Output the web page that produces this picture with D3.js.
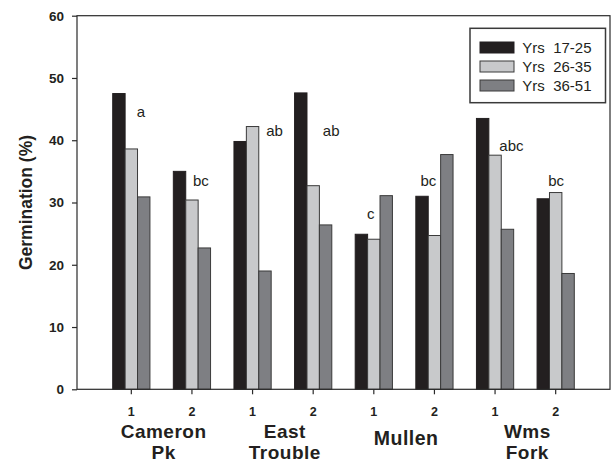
<!DOCTYPE html>
<html>
<head>
<meta charset="utf-8">
<script src="https://cdn.jsdelivr.net/npm/d3@7"></script>
<style>
  html, body { margin: 0; padding: 0; background: #fff; }
  svg { display: block; }
  text { font-family: "Liberation Sans", Arial, Helvetica, sans-serif; fill: #231f20; }
</style>
</head>
<body>
<svg id="chart" width="611" height="468"></svg>
<script>
// ---- data ----
const groups = ["CP1", "CP2", "ET1", "ET2", "M1", "M2", "WF1", "WF2"];
const groupTickLabels = ["1", "2", "1", "2", "1", "2", "1", "2"];
const sites = [["Cameron", "Pk"], ["East", "Trouble"], ["Mullen"], ["Wms", "Fork"]];
const seriesNames = ["Yrs  17-25", "Yrs  26-35", "Yrs  36-51"];
const yrs17_25 = [47.5, 35.0, 39.8, 47.6, 24.9, 31.0, 43.5, 30.6];
const yrs26_35 = [38.6, 30.4, 42.2, 32.7, 24.1, 24.7, 37.6, 31.6];
const yrs36_51 = [30.9, 22.7, 19.0, 26.4, 31.1, 37.7, 25.7, 18.6];
const letters = ["a", "bc", "ab", "ab", "c", "bc", "abc", "bc"];
const letterLevels = [43.7, 32.6, 40.6, 40.6, 27.3, 32.6, 38.3, 32.7];
const yTicks = [0, 10, 20, 30, 40, 50, 60];

// ---- layout ----
const colors = ["#231f20", "#c8c9cb", "#7e7f83"];
const strokes = ["#231f20", "#3a3a3a", "#3a3a3a"];
const letterDx = [9.7, 9, 22, 18, -3, -6, 16.4, 0.5];
const L = 77, R = 610, T = 15.7, B = 389.3;

const svg = d3.select("#chart");
const series = [yrs17_25, yrs26_35, yrs36_51];

const x = d3.scaleBand().domain(groups).range([L, R]).paddingInner(0.386).paddingOuter(0.589);
const xs = d3.scaleBand().domain(d3.range(series.length)).range([0, x.bandwidth()]);
const y = d3.scaleLinear().domain([0, 60]).range([B, T]);

// bars
const g = svg.append("g");
series.forEach((vals, si) => {
  g.selectAll(null).data(vals).enter().append("rect")
    .attr("x", (d, i) => x(groups[i]) + xs(si))
    .attr("y", d => y(d))
    .attr("width", xs.bandwidth())
    .attr("height", d => y(0) - y(d))
    .attr("fill", colors[si])
    .attr("stroke", strokes[si])
    .attr("stroke-width", 1);
});

// frame
svg.append("rect").attr("x", L).attr("y", T).attr("width", R - L).attr("height", B - T)
  .attr("fill", "none").attr("stroke", "#2a2a2a").attr("stroke-width", 1.2);

// y axis
const yAxis = d3.axisLeft(y).tickValues(yTicks).tickSize(5).tickPadding(8);
const ya = svg.append("g").attr("transform", `translate(${L},0)`).call(yAxis);
ya.select(".domain").remove();
ya.selectAll("line").attr("stroke", "#2a2a2a").attr("stroke-width", 1.2);
ya.selectAll("text").attr("font-size", 13.5).attr("font-weight", "bold")
  .attr("font-family", '"Liberation Sans", Arial, sans-serif').attr("fill", "#231f20");

// x axis
const xAxis = d3.axisBottom(x).tickSize(5).tickPadding(13).tickFormat((d, i) => groupTickLabels[i]);
const xa = svg.append("g").attr("transform", `translate(0,${B})`).call(xAxis);
xa.select(".domain").remove();
xa.selectAll("line").attr("stroke", "#2a2a2a").attr("stroke-width", 1.2);
xa.selectAll("text").attr("font-size", 12.5).attr("font-weight", "bold")
  .attr("font-family", '"Liberation Sans", Arial, sans-serif').attr("fill", "#231f20");

// site labels
sites.forEach((lines, si) => {
  const cx = (x(groups[si * 2]) + x(groups[si * 2 + 1]) + x.bandwidth()) / 2 + 2;
  const t = svg.append("text").attr("text-anchor", "middle")
    .attr("font-size", lines.length === 1 ? 19.5 : 19).attr("font-weight", "bold")
    .attr("letter-spacing", 0.5);
  if (lines.length === 1) {
    t.append("tspan").attr("x", cx).attr("y", 445).text(lines[0]);
  } else {
    lines.forEach((ln, li) => t.append("tspan").attr("x", cx).attr("y", 438 + li * 20.5).text(ln));
  }
});

// significance letters
svg.selectAll(".letter").data(letters).enter().append("text")
  .attr("class", "letter")
  .attr("x", (d, i) => x(groups[i]) + x.bandwidth() / 2 + letterDx[i])
  .attr("y", (d, i) => y(letterLevels[i]))
  .attr("text-anchor", "middle")
  .attr("font-size", 15)
  .text(d => d);

// y title
svg.append("text")
  .attr("transform", `translate(31.5,${(T + B) / 2}) rotate(-90)`)
  .attr("text-anchor", "middle")
  .attr("font-size", 17.5).attr("font-weight", "bold")
  .text("Germination (%)");

// legend
const lg = svg.append("g");
lg.append("rect").attr("x", 470).attr("y", 28.3).attr("width", 135.5).attr("height", 74.4)
  .attr("fill", "#fff").attr("stroke", "#3a3a3a").attr("stroke-width", 1.5);
seriesNames.forEach((nm, i) => {
  const yy = 42 + i * 19;
  lg.append("rect").attr("x", 480).attr("y", yy).attr("width", 34).attr("height", 11)
    .attr("fill", colors[i]).attr("stroke", strokes[i]).attr("stroke-width", 1);
  lg.append("text").attr("x", 522.3).attr("y", yy + 11.3).attr("font-size", 15)
    .style("white-space", "pre").text(nm);
});
</script>
</body>
</html>
